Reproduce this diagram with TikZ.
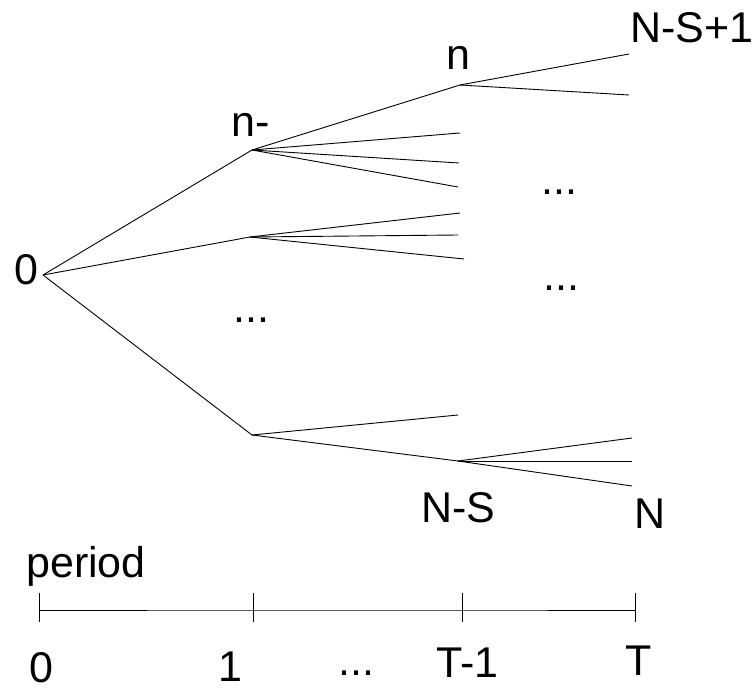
\documentclass[tikz,border=0pt]{standalone}
\usepackage{fontspec}
\setmainfont{Liberation Sans}
\begin{document}
\begin{tikzpicture}[x=1pt,y=-1pt,
  br/.style={line width=0.9pt},
  lbl/.style={font=\fontsize{43}{48}\selectfont, inner sep=0pt, anchor=base west},
  axl/.style={lbl, text depth=0pt}]
\useasboundingbox (0,0) rectangle (755,690);
% branch points
\coordinate (r) at (43,275);
\coordinate (A) at (252,150);
\coordinate (B) at (250,237);
\coordinate (C) at (252,435);
\coordinate (n) at (460,85);
\coordinate (a2) at (460,133);
\coordinate (a3) at (459,163);
\coordinate (a4) at (458,187);
\coordinate (b1) at (460,213);
\coordinate (b2) at (458,235);
\coordinate (b3) at (464,259);
\coordinate (c1) at (458,415);
\coordinate (ns) at (458,461);
\coordinate (n1) at (629,54);
\coordinate (n2) at (629,95);
\coordinate (s1) at (632,438);
\coordinate (s2) at (632,461);
\coordinate (s3) at (632,486);
% tree
\draw[br] (r) -- (A);
\draw[br] (r) -- (B);
\draw[br] (r) -- (C);
\draw[br] (A) -- (n);
\draw[br] (A) -- (a2);
\draw[br] (A) -- (a3);
\draw[br] (A) -- (a4);
\draw[br] (B) -- (b1);
\draw[br] (B) -- (b2);
\draw[br] (B) -- (b3);
\draw[br] (C) -- (c1);
\draw[br] (C) -- (ns);
\draw[br] (n) -- (n1);
\draw[br] (n) -- (n2);
\draw[br] (ns) -- (s1);
\draw[br] (ns) -- (s2);
\draw[br] (ns) -- (s3);
% labels
\node[lbl] (l0) at (14,284) {0};
\node[lbl] (lnm) at (231,137) {n-};
\node[lbl] (ln) at (446,70) {n};
\node[lbl] (lns1) at (630,43) {N-S+1};
\node[lbl] (lns) at (421,522) {N-S};
\node[lbl] (lN) at (634,528) {N};
\node[lbl] (d1) at (233,322) {...};
\node[lbl] (d2) at (541,194) {...};
\node[lbl] (d3) at (543,290) {...};
% period axis
\node[lbl] (lper) at (26,577) {period};
\coordinate (t0) at (39,610);
\coordinate (t1) at (253,610);
\coordinate (t2) at (462,610);
\coordinate (t3) at (635,610);
\draw[br] (t0) -- (t1) -- (t2) -- (t3);
\draw[br] ([yshift=-12]t0) -- ([yshift=17]t0);
\draw[br] ([yshift=-12]t1) -- ([yshift=17]t1);
\draw[br] ([yshift=-12]t2) -- ([yshift=17]t2);
\draw[br] ([yshift=-12]t3) -- ([yshift=17]t3);
\node[axl] (p0) at (29,682) {0};
\node[axl] (p1) at (218,681) {1};
\node[axl] (pd) at (338,675) {...};
\node[axl] (pT1) at (436,677) {T-1};
\node[axl] (pT) at (625,675) {T};
\end{tikzpicture}
\end{document}
